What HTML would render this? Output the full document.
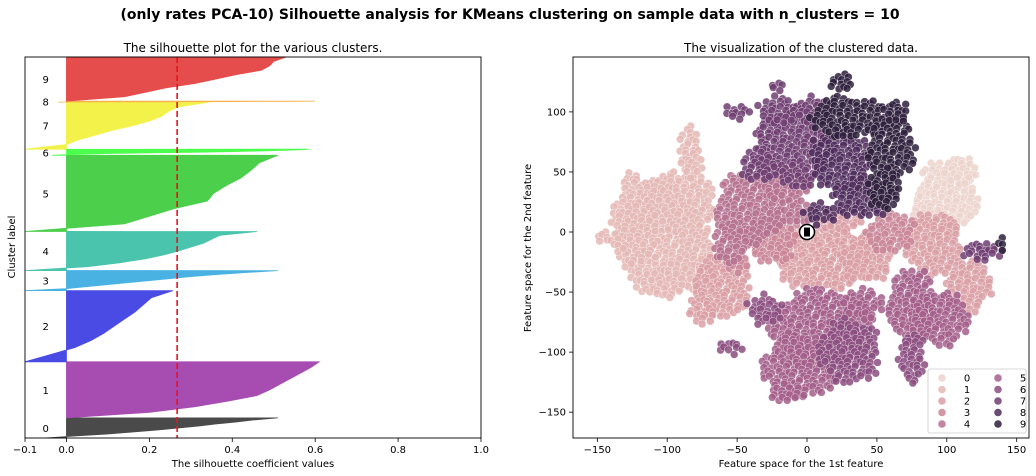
<!DOCTYPE html>
<html><head><meta charset="utf-8"><style>
body{margin:0;background:#fff;}
svg{display:block;font-family:"DejaVu Sans","Liberation Sans",sans-serif;}
</style></head><body>
<svg id="c" width="1036" height="476" viewBox="0 0 1036 476">
<text x="510" y="19" text-anchor="middle" font-size="14" font-weight="bold">(only rates PCA-10) Silhouette analysis for KMeans clustering on sample data with n_clusters = 10</text>
<text x="253" y="52" text-anchor="middle" font-size="12">The silhouette plot for the various clusters.</text>
<text x="801" y="52" text-anchor="middle" font-size="12">The visualization of the clustered data.</text>
<g id="left"></g>
<g id="right"></g>
</svg>
<script>
// ---- silhouette data ----
const clusterSizes=[20,56,71,20,39,76,6,47,1,44];
const silColors=["#4a4a4a","#a74db2","#4a4ae4","#4ab2e2","#4ac4ad","#4ccf4a","#4dff4d","#f2f24a","#f6b04c","#e54c4c"];
const sil0=[-0.05,0.02,0.1,0.16,0.22,0.27,0.32,0.36,0.41,0.45,0.51];
const sil1=[0.0,0.2,0.31,0.39,0.46,0.49,0.515,0.54,0.565,0.59,0.61];
const sil2=[-0.1,-0.04,0.02,0.06,0.09,0.115,0.14,0.165,0.185,0.205,0.257];
const sil3=[-0.1,0.0,0.05,0.1,0.15,0.2,0.25,0.3,0.36,0.43,0.51];
const sil4=[-0.1,0.05,0.13,0.19,0.235,0.27,0.3,0.33,0.35,0.37,0.46];
const sil5=[-0.1,0.14,0.2,0.26,0.34,0.355,0.385,0.42,0.445,0.465,0.51];
const sil6=[-0.035,0.0,0.05,0.1,0.2,0.3,0.4,0.47,0.52,0.56,0.585];
const sil7=[-0.1,0.0,0.03,0.07,0.11,0.16,0.2,0.23,0.245,0.27,0.345];
const sil8=[-0.02,0.0,0.1,0.2,0.3,0.4,0.45,0.5,0.55,0.58,0.6];
const sil9=[0.0,0.14,0.19,0.24,0.31,0.36,0.41,0.47,0.49,0.5,0.53];
const silProfiles=[sil0,sil1,sil2,sil3,sil4,sil5,sil6,sil7,sil8,sil9];
const silAvg=0.267;
const silTicks=[-0.1,0.0,0.2,0.4,0.6,0.8,1.0];
const silTickLabels=["−0.1","0.0","0.2","0.4","0.6","0.8","1.0"];

// ---- scatter data: blobs [cluster, cx, cy, rx, ry] ----
const hueColors=["#ecd3cc","#e4b8b5","#d99fa5","#c98597","#b5718e","#a35e89","#8b4c7f","#6e3d71","#4f2c5c","#2e1e3c"];
const blobs=[
[1,-105,-5,28,48],[1,-122,10,17,38],[1,-90,25,24,24],[1,-80,-20,14,28],[1,-100,-42,12,14],[1,-85,72,7,16],[1,-145,-5,7,6],[1,-135,-12,5,5],[1,-82,55,8,10],
[0,100,30,22,30],[0,110,52,12,12],[0,85,15,10,10],
[2,10,-20,34,28],[2,42,-22,18,20],[2,-60,-45,20,27],[2,90,-10,20,27],[2,-75,-65,9,12],[2,115,-45,17,22],[2,25,10,15,10],
[3,-25,-5,17,22],[3,60,0,17,17],[3,-50,-25,8,8],
[4,-40,20,25,30],[4,-15,40,17,17],[4,-55,-10,12,17],[4,-5,15,10,10],
[5,10,-80,38,32],[5,-5,-112,27,27],[5,75,-62,17,32],[5,95,-72,22,22],[5,40,-60,15,12],[5,-15,-135,12,8],
[6,-30,-65,12,12],[6,30,-100,22,27],[6,75,-105,9,22],[6,-55,-95,8,6],
[7,-10,70,28,32],[7,-35,55,12,14],[7,-20,100,14,12],[7,5,100,14,12],[7,-50,100,8,7],[7,125,-15,14,8],[7,-22,122,5,5],
[8,25,60,22,27],[8,40,30,22,17],[8,10,15,12,8],
[9,30,95,27,17],[9,60,70,17,27],[9,55,35,12,17],[9,25,125,9,7],[9,65,100,9,9],[9,140,-10,5,4]
];
const xTicks=[-150,-100,-50,0,50,100,150];
const yTicks=[100,50,0,-50,-100,-150];
const legendLabels=["0","1","2","3","4","5","6","7","8","9"];

const NS="http://www.w3.org/2000/svg";
function mk(tag,attrs,parent){const e=document.createElementNS(NS,tag);for(const k in attrs)e.setAttribute(k,attrs[k]);parent.appendChild(e);return e;}

// ---- left plot ----
const L=document.getElementById('left');
const lx0=25,lx1=481,ly0=57,ly1=438;
const sx=v=>lx0+(v+0.1)/1.1*(lx1-lx0);
const total=clusterSizes.reduce((a,b)=>a+b,0);
const sy=v=>ly1-v/total*(ly1-ly0);
let yl=0;
clusterSizes.forEach((n,i)=>{
  const prof=silProfiles[i];
  let d="M"+sx(0)+","+sy(yl);
  prof.forEach((v,j)=>{const yy=yl+n*j/(prof.length-1);d+=" L"+sx(v).toFixed(1)+","+sy(yy).toFixed(1);});
  d+=" L"+sx(0)+","+sy(yl+n)+" Z";
  const p=mk('path',{d:d,fill:silColors[i],stroke:silColors[i],'stroke-width':0.8},L);
  
  
  const t=mk('text',{x:sx(-0.05),y:sy(yl+n/2)+4,'text-anchor':'middle','font-size':10},L);
  t.textContent=String(i);
  
  
  yl+=n;
});
const avg=mk('line',{x1:sx(silAvg),x2:sx(silAvg),y1:ly0,y2:ly1,stroke:'#e8131b','stroke-width':1.6,'stroke-dasharray':'6,3'},L);


const lf=mk('rect',{x:lx0,y:ly0,width:lx1-lx0,height:ly1-ly0,fill:'none',stroke:'#000','stroke-width':0.9},L);


silTicks.forEach((v,i)=>{
  mk('line',{x1:sx(v),x2:sx(v),y1:ly1,y2:ly1+4,stroke:'#000','stroke-width':0.8},L);
  const t=mk('text',{x:sx(v),y:ly1+15,'text-anchor':'middle','font-size':10},L);
  t.textContent=silTickLabels[i];
  
  
});
let t=mk('text',{x:253,y:467,'text-anchor':'middle','font-size':10},L);t.textContent="The silhouette coefficient values";


t=mk('text',{x:15,y:247,'text-anchor':'middle','font-size':10,transform:'rotate(-90 15 247)'},L);t.textContent="Cluster label";



// ---- right plot ----
const R=document.getElementById('right');
const rx0=573,rx1=1029,ry0=57,ry1=438;
const xmin=-167.4,xmax=158.8,ymin=-171.5,ymax=145.7;
const X=v=>rx0+(v-xmin)/(xmax-xmin)*(rx1-rx0);
const Y=v=>ry1-(v-ymin)/(ymax-ymin)*(ry1-ry0);
const pts=mk('g',{},R);


const step=5.5;
blobs.forEach((b,bi)=>{
  const [c,cx,cy,rx,ry]=b;
  const px=X(cx),py=Y(cy),prx=rx*(rx1-rx0)/(xmax-xmin),pry=ry*(ry1-ry0)/(ymax-ymin);
  let row=0;
  for(let yy=py-pry;yy<=py+pry;yy+=step*0.87,row++){
    let col=0;
    for(let xx=px-prx+(row%2)*step/2;xx<=px+prx;xx+=step,col++){
      const jx=1.6*Math.sin(row*2.3+col*1.7+bi),jy=1.6*Math.cos(row*1.3+col*2.9+bi);
      const dx=(xx-px)/prx,dy=(yy-py)/pry;
      const edge=1-0.18*Math.sin(Math.atan2(dy,dx)*5+bi);
      if(dx*dx+dy*dy<=edge){
        mk('circle',{cx:(xx+jx).toFixed(1),cy:(yy+jy).toFixed(1),r:3.9,fill:hueColors[c],'fill-opacity':0.85,stroke:'#fff','stroke-width':0.5,'stroke-opacity':0.7},pts);
      }
    }
  }
});
// center marker
const cm=mk('g',{},R);


mk('circle',{cx:X(0),cy:Y(0),r:7.5,fill:'#fff',stroke:'#000','stroke-width':1.5},cm);
mk('rect',{x:X(0)-3,y:Y(0)-4.5,width:6,height:9,fill:'#000'},cm);
const rf=mk('rect',{x:rx0,y:ry0,width:rx1-rx0,height:ry1-ry0,fill:'none',stroke:'#000','stroke-width':0.9},R);


xTicks.forEach(v=>{
  mk('line',{x1:X(v),x2:X(v),y1:ry1,y2:ry1+4,stroke:'#000','stroke-width':0.8},R);
  const t=mk('text',{x:X(v),y:ry1+15,'text-anchor':'middle','font-size':10},R);
  t.textContent=String(v).replace('-','−');
  
  
});
yTicks.forEach(v=>{
  mk('line',{x1:rx0-4,x2:rx0,y1:Y(v),y2:Y(v),stroke:'#000','stroke-width':0.8},R);
  const t=mk('text',{x:rx0-7,y:Y(v)+3.5,'text-anchor':'end','font-size':10},R);
  t.textContent=String(v).replace('-','−');
  
  
});
t=mk('text',{x:801,y:467,'text-anchor':'middle','font-size':10},R);t.textContent="Feature space for the 1st feature";


t=mk('text',{x:531,y:248,'text-anchor':'middle','font-size':10,transform:'rotate(-90 531 248)'},R);t.textContent="Feature space for the 2nd feature";


// legend
const lg=mk('g',{},R);


mk('rect',{x:928,y:369,width:98,height:64,rx:2,fill:'#fff','fill-opacity':0.85,stroke:'#ccc','stroke-width':0.8},lg);
legendLabels.forEach((lab,i)=>{
  const col=Math.floor(i/5),row=i%5;
  const gx=942+col*56,gy=378+row*11.5;
  const e=mk('g',{},lg);
  
  
  mk('circle',{cx:gx,cy:gy,r:3.8,fill:hueColors[i],'fill-opacity':0.85},e);
  const tt=mk('text',{x:gx+25,y:gy+3.5,'text-anchor':'middle','font-size':10},e);
  tt.textContent=lab;
});
</script>
</body></html>
